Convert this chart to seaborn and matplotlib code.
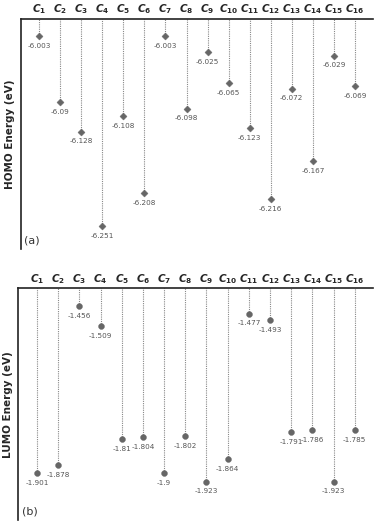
import seaborn as sns
import pandas as pd
import matplotlib.pyplot as plt

compounds = ["C%d" % i for i in range(1, 17)]
homo = [-6.003, -6.09, -6.128, -6.251, -6.108, -6.208, -6.003, -6.098,
        -6.025, -6.065, -6.123, -6.216, -6.072, -6.167, -6.029, -6.069]
lumo = [-1.901, -1.878, -1.456, -1.509, -1.81, -1.804, -1.9, -1.802,
        -1.923, -1.864, -1.477, -1.493, -1.791, -1.786, -1.923, -1.785]
homo_labels = ["-6.003", "-6.09", "-6.128", "-6.251", "-6.108", "-6.208", "-6.003", "-6.098",
               "-6.025", "-6.065", "-6.123", "-6.216", "-6.072", "-6.167", "-6.029", "-6.069"]
lumo_labels = ["-1.901", "-1.878", "-1.456", "-1.509", "-1.81", "-1.804", "-1.9", "-1.802",
               "-1.923", "-1.864", "-1.477", "-1.493", "-1.791", "-1.786", "-1.923", "-1.785"]

sns.set_style("white")
plt.rcParams['font.family'] = ['DejaVu Sans']
plt.rcParams['mathtext.fontset'] = 'custom'
plt.rcParams['mathtext.it'] = 'DejaVu Sans:italic:bold'
plt.rcParams['mathtext.rm'] = 'DejaVu Sans:bold'

df = pd.DataFrame({"idx": range(16), "name": compounds, "homo": homo, "lumo": lumo})
marker_col = "#666666"

fig = plt.figure(figsize=(3.76, 5.28), dpi=100)
ax1 = fig.add_axes([0.055, 0.5284, 0.936, 0.4362])
ax2 = fig.add_axes([0.0487, 0.0152, 0.9423, 0.4388])

panels = [
    (ax1, "homo", homo_labels, "D", (-6.281, -5.981), "HOMO Energy (eV)", "(a)"),
    (ax2, "lumo", lumo_labels, "o", (-2.025, -1.410), "LUMO Energy (eV)", "(b)"),
]

for ax, col, labs, mk, lim, ylab, tag in panels:
    ax.set_ylim(*lim)
    ax.set_xlim(-0.88, 15.84)
    ax.vlines(df["idx"], df[col], lim[1], colors="#888888", linestyles=(0, (1, 1)), lw=0.8)
    sns.scatterplot(data=df, x="idx", y=col, ax=ax, marker=mk, color=marker_col,
                    s=13 if mk == "D" else 18, edgecolor=marker_col, linewidth=0.3, zorder=3)
    for i, (v, t) in enumerate(zip(df[col], labs)):
        ax.annotate(t, (i, v), xytext=(0, -5), textcoords="offset points",
                    ha="center", va="top", fontsize=5.2, color="#555555")
    ax.xaxis.tick_top()
    ax.set_xticks(df["idx"])
    ax.set_xticklabels(["$C_{%d}$" % (i + 1) for i in range(16)], fontsize=7.5)
    ax.tick_params(axis="x", length=0, pad=2)
    ax.set_yticks([])
    ax.set_xlabel("")
    ax.set_ylabel(ylab, fontsize=7.5, fontweight="bold", labelpad=4)
    for s in ["bottom", "right"]:
        ax.spines[s].set_visible(False)
    for s in ["top", "left"]:
        ax.spines[s].set_color("#222222")
        ax.spines[s].set_linewidth(1.2)
    ax.text(0.01, 0.015, tag, transform=ax.transAxes, fontsize=8, color="#333333",
            ha="left", va="bottom")

fig.savefig("out.png", dpi=100)
